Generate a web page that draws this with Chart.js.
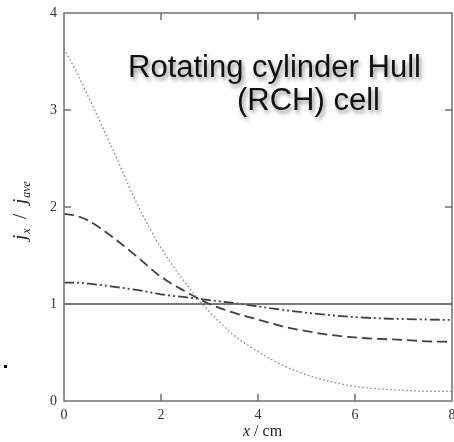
<!DOCTYPE html>
<html>
<head>
<meta charset="utf-8">
<script src="https://cdn.jsdelivr.net/npm/chart.js@4.4.0/dist/chart.umd.min.js"></script>
<style>
  html, body { margin: 0; padding: 0; background: #fff; }
  #wrap { width: 454px; height: 442px; }
</style>
</head>
<body>
<div id="wrap"><canvas id="rchChart" width="454" height="442"></canvas></div>
<script>
const xPositions = [0, 0.25, 0.5, 1, 1.5, 2, 2.5, 3, 3.5, 4, 4.5, 5, 5.5, 6, 6.5, 7, 7.5, 8];
const dottedCurve = [3.63, 3.40, 3.14, 2.6, 2.04, 1.58, 1.22, 0.92, 0.68, 0.51, 0.37, 0.27, 0.2, 0.15, 0.125, 0.11, 0.1, 0.1];
const dashedCurve = [1.93, 1.91, 1.86, 1.69, 1.49, 1.28, 1.13, 1.0, 0.91, 0.84, 0.77, 0.72, 0.68, 0.655, 0.64, 0.63, 0.615, 0.61];
const dashDotCurve = [1.22, 1.22, 1.21, 1.18, 1.145, 1.10, 1.07, 1.04, 1.01, 0.975, 0.94, 0.91, 0.885, 0.865, 0.852, 0.845, 0.84, 0.835];
const uniformLine = [1, 1, 1, 1, 1, 1, 1, 1, 1, 1, 1, 1, 1, 1, 1, 1, 1, 1];
const xTicks = [0, 2, 4, 6, 8];
const yTicks = [0, 1, 2, 3, 4];
const titleLines = ['Rotating cylinder Hull', '(RCH) cell'];

function toPoints(ys) {
    return xPositions.map((x, i) => ({ x: x, y: ys[i] }));
}

// frame, inward ticks, axis titles and the text box
const decorations = {
    id: 'decorations',
    afterDatasetsDraw(chart) {
        const ctx = chart.ctx;
        const a = chart.chartArea;
        const sx = chart.scales.x, sy = chart.scales.y;
        ctx.save();
        ctx.strokeStyle = '#707070';
        ctx.lineWidth = 1.5;
        ctx.strokeRect(a.left, a.top, a.right - a.left, a.bottom - a.top);
        ctx.beginPath();
        xTicks.slice(1, -1).forEach(v => {
            const px = sx.getPixelForValue(v);
            ctx.moveTo(px, a.bottom); ctx.lineTo(px, a.bottom - 7);
            ctx.moveTo(px, a.top); ctx.lineTo(px, a.top + 7);
        });
        yTicks.slice(1, -1).forEach(v => {
            const py = sy.getPixelForValue(v);
            ctx.moveTo(a.left, py); ctx.lineTo(a.left + 7, py);
            ctx.moveTo(a.right, py); ctx.lineTo(a.right - 7, py);
        });
        ctx.stroke();

        // x title
        ctx.fillStyle = '#222';
        ctx.textBaseline = 'alphabetic';
        ctx.font = 'italic 16px "Liberation Serif"';
        let xx = 243;
        ctx.fillText('x', xx, 436);
        xx += ctx.measureText('x').width;
        ctx.font = '16px "Liberation Serif"';
        ctx.fillText(' / cm', xx, 436);

        // y title, rotated
        ctx.save();
        ctx.translate(26, 240);
        ctx.rotate(-Math.PI / 2);
        let p = 0;
        ctx.font = 'italic 19px "Liberation Serif"';
        ctx.fillText('j', p, 0); p += ctx.measureText('j').width + 1;
        ctx.font = 'italic 12px "Liberation Serif"';
        ctx.fillText('x', p, 4); p += ctx.measureText('x').width;
        ctx.font = '19px "Liberation Serif"';
        ctx.fillText('  /  ', p, 0); p += ctx.measureText('  /  ').width;
        ctx.font = 'italic 19px "Liberation Serif"';
        ctx.fillText('j', p, 0); p += ctx.measureText('j').width + 1;
        ctx.font = 'italic 12px "Liberation Serif"';
        ctx.fillText('ave', p, 4);
        ctx.restore();

        // stray mark at the left edge
        ctx.fillStyle = '#000';
        ctx.fillRect(4, 365, 3, 3);

        // annotation with soft shadow
        ctx.font = '31px "Liberation Sans"';
        ctx.fillStyle = '#111';
        ctx.shadowColor = 'rgba(0,0,0,0.45)';
        ctx.shadowBlur = 4;
        ctx.shadowOffsetX = 2;
        ctx.shadowOffsetY = 3;
        ctx.textAlign = 'left';
        ctx.fillText(titleLines[0], 128, 77);
        ctx.fillText(titleLines[1], 237, 110);
        ctx.restore();
    }
};

const ctx = document.getElementById('rchChart').getContext('2d');
new Chart(ctx, {
    type: 'line',
    data: {
        datasets: [{
            data: toPoints(uniformLine),
            borderColor: '#505050',
            borderWidth: 1.5
        }, {
            data: toPoints(dottedCurve),
            borderColor: '#808080',
            borderWidth: 1.3,
            borderDash: [1.5, 2.5]
        }, {
            data: toPoints(dashedCurve),
            borderColor: '#404040',
            borderWidth: 1.8,
            borderDash: [10, 5]
        }, {
            data: toPoints(dashDotCurve),
            borderColor: '#404040',
            borderWidth: 1.8,
            borderDash: [10, 3, 2, 3, 2, 3]
        }]
    },
    options: {
        responsive: false,
        animation: false,
        devicePixelRatio: 1,
        layout: { padding: { top: 13, right: 2, left: 0, bottom: 0 } },
        elements: {
            point: { radius: 0 },
            line: { cubicInterpolationMode: 'monotone', fill: false }
        },
        plugins: {
            legend: { display: false },
            tooltip: { enabled: false }
        },
        scales: {
            x: {
                type: 'linear',
                min: 0,
                max: 8,
                afterFit: s => { s.height = 41; s.paddingLeft = 0; s.paddingRight = 0; },
                afterBuildTicks: s => { s.ticks = xTicks.map(v => ({ value: v })); },
                grid: { display: false, drawTicks: false },
                border: { display: false },
                ticks: {
                    padding: 6,
                    color: '#333',
                    font: { family: 'Liberation Serif', size: 14 }
                }
            },
            y: {
                min: 0,
                max: 4,
                afterFit: s => { s.width = 64; s.paddingTop = 0; s.paddingBottom = 0; },
                afterBuildTicks: s => { s.ticks = yTicks.map(v => ({ value: v })); },
                grid: { display: false, drawTicks: false },
                border: { display: false },
                ticks: {
                    padding: 7,
                    color: '#333',
                    font: { family: 'Liberation Serif', size: 14 }
                }
            }
        }
    },
    plugins: [decorations]
});
</script>
</body>
</html>
